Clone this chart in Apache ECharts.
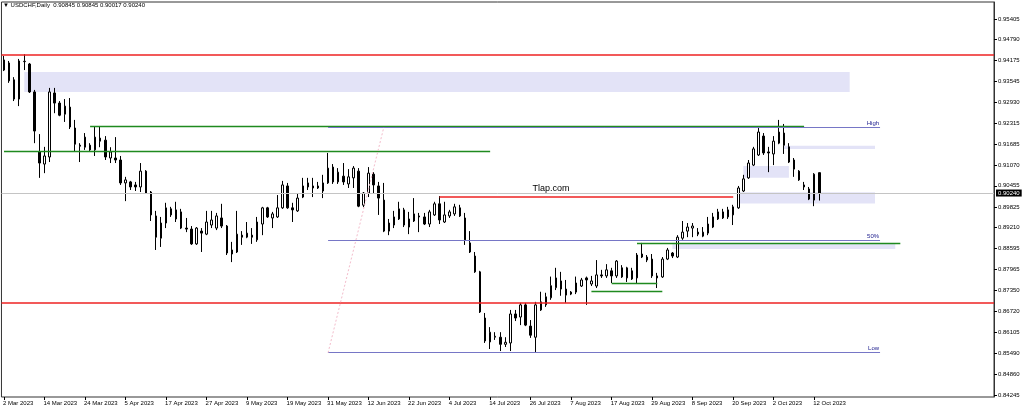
<!DOCTYPE html>
<html><head><meta charset="utf-8">
<script src="https://cdn.jsdelivr.net/npm/echarts@6.0.0/dist/echarts.min.js"></script>
<style>html,body{margin:0;padding:0;background:#fff}#c{width:1024px;height:411px}</style>
</head><body><div id="c"></div><script>
const symbolName = 'USDCHF,Daily';
const firstDate = [2023, 2, 2];
const opens = [0.9389,0.9410,0.9360,0.9303,0.9414,0.9407,0.9324,0.9146,0.9110,0.9131,0.9321,0.9291,0.9258,0.9279,0.9217,0.9166,0.9160,0.9166,0.9152,0.9187,0.9181,0.9128,0.9128,0.9122,0.9054,0.9057,0.9048,0.9042,0.9089,0.9027,0.8956,0.8890,0.8935,0.8977,0.8947,0.8968,0.8920,0.8917,0.8873,0.8911,0.8902,0.8929,0.8920,0.8950,0.8926,0.8843,0.8849,0.8899,0.8893,0.8899,0.8885,0.8932,0.8980,0.8950,0.8953,0.8980,0.9045,0.8980,0.8971,0.9012,0.9042,0.9045,0.9045,0.9030,0.9054,0.9101,0.9057,0.9074,0.9051,0.9069,0.9089,0.8988,0.9024,0.9080,0.9045,0.9003,0.8911,0.8929,0.8947,0.8974,0.8923,0.8941,0.8956,0.8953,0.8932,0.8959,0.8992,0.8938,0.8956,0.8962,0.8980,0.8950,0.8876,0.8837,0.8790,0.8653,0.8582,0.8596,0.8596,0.8575,0.8579,0.8665,0.8656,0.8692,0.8629,0.8596,0.8677,0.8692,0.8713,0.8743,0.8763,0.8739,0.8730,0.8730,0.8748,0.8772,0.8754,0.8748,0.8781,0.8778,0.8793,0.8778,0.8802,0.8772,0.8793,0.8772,0.8834,0.8825,0.8828,0.8778,0.8775,0.8828,0.8846,0.8834,0.8890,0.8911,0.8920,0.8908,0.8896,0.8905,0.8923,0.8947,0.8950,0.8953,0.8959,0.8980,0.9030,0.9069,0.9107,0.9137,0.9193,0.9146,0.9140,0.9172,0.9202,0.9161,0.9122,0.9089,0.9048,0.9036,0.9003,0.90845];
const highs = [0.9431,0.9416,0.9368,0.9422,0.9436,0.9410,0.9330,0.9199,0.9161,0.9336,0.9336,0.9297,0.9303,0.9306,0.9241,0.9172,0.9202,0.9172,0.9220,0.9220,0.9193,0.9160,0.9190,0.9134,0.9072,0.9060,0.9057,0.9113,0.9092,0.9030,0.8971,0.8953,0.8995,0.8983,0.8998,0.8977,0.8950,0.8926,0.8923,0.8920,0.8971,0.8971,0.8965,0.8992,0.8929,0.8879,0.8971,0.8911,0.8938,0.8920,0.8953,0.8983,0.8983,0.8968,0.9018,0.9060,0.9054,0.8995,0.9024,0.9069,0.9069,0.9069,0.9057,0.9078,0.9143,0.9110,0.9098,0.9113,0.9095,0.9104,0.9098,0.9027,0.9101,0.9086,0.9057,0.9054,0.8947,0.8971,0.8998,0.8980,0.8968,0.9009,0.8965,0.8965,0.8974,0.8998,0.9015,0.8998,0.8974,0.8992,0.8989,0.8965,0.8911,0.8849,0.8793,0.8668,0.8626,0.8611,0.8611,0.8596,0.8677,0.8677,0.8698,0.8698,0.8647,0.8701,0.8731,0.8728,0.8776,0.8802,0.8790,0.8766,0.8733,0.8776,0.8772,0.8776,0.8778,0.8825,0.8796,0.8813,0.8802,0.8825,0.8810,0.8805,0.8802,0.8846,0.8876,0.8840,0.8843,0.8787,0.8834,0.8861,0.8849,0.8899,0.8941,0.8935,0.8935,0.8920,0.8923,0.8953,0.8965,0.8977,0.8977,0.8983,0.8989,0.9045,0.9078,0.9122,0.9161,0.9220,0.9202,0.9161,0.9193,0.9241,0.9229,0.9172,0.9128,0.9092,0.9057,0.9042,0.9083,0.90845];
const lows = [0.9386,0.9351,0.9297,0.9282,0.9389,0.9321,0.9172,0.9069,0.9083,0.9116,0.9261,0.9252,0.9235,0.9214,0.9146,0.9116,0.9152,0.9149,0.9134,0.9160,0.9122,0.9113,0.9113,0.9048,0.9000,0.9033,0.9030,0.9027,0.9023,0.8941,0.8855,0.8864,0.8920,0.8953,0.8938,0.8917,0.8908,0.8870,0.8870,0.8849,0.8899,0.8920,0.8914,0.8920,0.8840,0.8819,0.8846,0.8870,0.8890,0.8873,0.8879,0.8899,0.8950,0.8920,0.8950,0.8977,0.8977,0.8938,0.8968,0.9009,0.9033,0.9012,0.9036,0.9009,0.9051,0.9051,0.9051,0.9048,0.9039,0.9039,0.8982,0.8982,0.9012,0.9024,0.8959,0.8908,0.8899,0.8920,0.8944,0.8923,0.8902,0.8938,0.8908,0.8929,0.8923,0.8956,0.8932,0.8935,0.8950,0.8956,0.8953,0.8870,0.8846,0.8787,0.8668,0.8579,0.8561,0.8588,0.8555,0.8567,0.8555,0.8644,0.8632,0.8629,0.8594,0.8550,0.8674,0.8686,0.8707,0.8736,0.8719,0.8698,0.8721,0.8724,0.8745,0.8692,0.8748,0.8742,0.8772,0.8772,0.8757,0.8772,0.8772,0.8760,0.8766,0.8757,0.8831,0.8819,0.8772,0.8742,0.8772,0.8825,0.8831,0.8831,0.8885,0.8893,0.8893,0.8896,0.8893,0.8899,0.8920,0.8944,0.8947,0.8947,0.8929,0.8977,0.9027,0.9066,0.9104,0.9134,0.9137,0.9086,0.9107,0.9169,0.9140,0.9113,0.9072,0.9060,0.9033,0.9003,0.8985,0.90017];
const closes = [0.9419,0.9357,0.9303,0.9416,0.9415,0.9324,0.9208,0.9113,0.9134,0.9324,0.9291,0.9255,0.9282,0.9220,0.9169,0.9163,0.9190,0.9152,0.9190,0.9178,0.9131,0.9146,0.9122,0.9054,0.9063,0.9042,0.9042,0.9089,0.9024,0.8959,0.8893,0.8935,0.8980,0.8959,0.8974,0.8920,0.8917,0.8873,0.8920,0.8905,0.8938,0.8944,0.8956,0.8926,0.8846,0.8855,0.8902,0.8893,0.8905,0.8893,0.8938,0.8980,0.8953,0.8962,0.8980,0.9048,0.8980,0.8974,0.9009,0.9045,0.9054,0.9039,0.9039,0.9054,0.9098,0.9057,0.9086,0.9057,0.9072,0.9098,0.8985,0.9024,0.9083,0.9048,0.9009,0.8911,0.8935,0.8953,0.8977,0.8929,0.8947,0.8962,0.8953,0.8932,0.8968,0.8992,0.8944,0.8959,0.8968,0.8983,0.8956,0.8885,0.8849,0.8790,0.8671,0.8585,0.8611,0.8599,0.8575,0.8581,0.8665,0.8653,0.8692,0.8632,0.8602,0.8692,0.8701,0.8716,0.8749,0.8772,0.8739,0.8721,0.8724,0.8757,0.8766,0.8766,0.8763,0.8781,0.8778,0.8796,0.8778,0.8822,0.8775,0.8802,0.8769,0.8840,0.8843,0.8834,0.8778,0.8772,0.8828,0.8855,0.8837,0.8893,0.8908,0.8923,0.8926,0.8902,0.8908,0.8932,0.8953,0.8968,0.8968,0.8974,0.8983,0.9039,0.9066,0.9113,0.9155,0.9205,0.9143,0.9143,0.9178,0.9205,0.9166,0.9116,0.9095,0.9063,0.9042,0.9006,0.9080,0.90240];
const xTickLabels = ['2 Mar 2023','14 Mar 2023','24 Mar 2023','5 Apr 2023','17 Apr 2023','27 Apr 2023','9 May 2023','19 May 2023','31 May 2023','12 Jun 2023','22 Jun 2023','4 Jul 2023','14 Jul 2023','26 Jul 2023','7 Aug 2023','17 Aug 2023','29 Aug 2023','8 Sep 2023','20 Sep 2023','2 Oct 2023','12 Oct 2023'];
const yTickValues = [0.84245,0.84860,0.85490,0.86105,0.86720,0.87350,0.87965,0.88595,0.89210,0.89825,0.90455,0.91070,0.91685,0.92315,0.92930,0.93545,0.94175,0.94790,0.95405];
// horizontal levels (prices)
const redLevels = [0.9434, 0.8698];
const bidPrice = 0.90240;
// segments: [fromBar, toBar, price]
const greenSegments = [[17,158,0.9222],[0,96,0.9147],[125,177,0.8875],[120,129,0.8756],[116,130,0.8731]];
const redSegments = [[86,144,0.9012]];
const fibFrom = 64, fibTo = 173, fibHigh = 0.9219, fibLow = 0.8550;
const fibLevels = [['High',1],['50%',0.5],['Low',0]];
const fibDiagonal = [64, 75];
// rectangles: [fromBar, toBar, priceTop, priceBottom]
const zones = [[4,167,0.9383,0.9324],[146,155,0.9104,0.9069],[154,172,0.9164,0.9155],[145,172,0.9026,0.8993],[132,176,0.8876,0.8858]];
const watermark = ['Tlap.com', 108, 0.9037];
const TICK_STEP = 8, SLOTS = 196;

const cats = [];
let d = new Date(Date.UTC(firstDate[0], firstDate[1], firstDate[2]));
while (cats.length < opens.length) {
  const wd = d.getUTCDay();
  if (wd !== 0 && wd !== 6) cats.push(d.toISOString().slice(0,10));
  d.setUTCDate(d.getUTCDate() + 1);
}
for (let i = cats.length; i < SLOTS; i++) cats.push('pad' + i);

const candles = opens.map((o,i)=>[o, closes[i], lows[i], highs[i]]);
const last = opens.length - 1;
const FONT = 'Liberation Sans, Arial, DejaVu Sans, sans-serif';
const tickFn = (i) => i % TICK_STEP === 0 && i / TICK_STEP < xTickLabels.length;

const ml = [];
redLevels.forEach(p => ml.push({yAxis: p, lineStyle:{color:'#ee2222', width:1.5, type:'solid'}, label:{show:false}}));
ml.push({yAxis: bidPrice, lineStyle:{color:'#c4c4c4', width:1, type:'solid'},
  label:{show:true, position:'end', distance:2, formatter: bidPrice.toFixed(5), color:'#fff', backgroundColor:'#000', padding:[1,2,0,2], fontSize:6, fontFamily:FONT}});
greenSegments.forEach(s => ml.push([{coord:[s[0],s[2]], lineStyle:{color:'#1f8a1f', width:1.3, type:'solid'}, label:{show:false}},{coord:[s[1],s[2]]}]));
redSegments.forEach(s => ml.push([{coord:[s[0],s[2]], lineStyle:{color:'#ee2222', width:1.5, type:'solid'}, label:{show:false}},{coord:[s[1],s[2]]}]));
fibLevels.forEach(f => {
  const p = fibLow + (fibHigh - fibLow) * f[1];
  ml.push([{coord:[fibFrom,p], lineStyle:{color:'#7676c6', width:1, type:'solid'},
    label:{show:true, position:'insideEndTop', formatter:f[0], color:'#1a1a8c', fontSize:6, fontFamily:FONT, distance:1}},{coord:[fibTo,p]}]);
});
ml.push([{coord:[fibDiagonal[0],fibLow], lineStyle:{color:'#f3bccb', width:1, type:[2,2]}, label:{show:false}},{coord:[fibDiagonal[1],fibHigh]}]);

const ma = zones.map(z => [{coord:[z[0],z[2]], itemStyle:{color:'#e3e3f7'}},{coord:[z[1],z[3]]}]);

const chart = echarts.init(document.getElementById('c'), null, {renderer:'canvas'});
chart.setOption({
  animation: false,
  backgroundColor: '#fff',
  title: {
    text: '\u25BC ' + symbolName + '  ' + [opens[last], highs[last], lows[last], closes[last]].map(v=>v.toFixed(5)).join(' '),
    left: 3, top: 2, padding: 0,
    textStyle: {fontSize: 6, fontWeight: 'normal', color: '#000', fontFamily: FONT}
  },
  grid: {left: 1, right: 30, top: 2, bottom: 14, show: true, borderColor: '#333', borderWidth: 1, backgroundColor: '#fff'},
  xAxis: {
    type: 'category', data: cats, boundaryGap: true,
    axisLine: {show: false},
    axisTick: {show: true, alignWithLabel: true, interval: tickFn, length: 3, lineStyle: {color: '#000'}},
    axisLabel: {interval: tickFn, formatter: (v, i) => xTickLabels[i / TICK_STEP] || '', align: 'left', margin: 3,
      fontSize: 6, color: '#000', fontFamily: FONT, padding: [0,0,0,-1]},
    splitLine: {show: false}
  },
  yAxis: {
    type: 'value', position: 'right', min: 0.84186, max: 0.95910, scale: true,
    axisLine: {show: true, lineStyle: {color: '#333'}},
    axisTick: {show: true, customValues: yTickValues, length: 3, lineStyle: {color: '#000'}},
    axisLabel: {customValues: yTickValues, formatter: v => v.toFixed(5), fontSize: 6, margin: 4, color: '#000', fontFamily: FONT},
    splitLine: {show: false}
  },
  series: [{
    type: 'candlestick', data: candles, barWidth: 2, clip: true,
    itemStyle: {color: '#fff', color0: '#000', borderColor: '#000', borderColor0: '#000', borderWidth: 1},
    markArea: {silent: true, data: ma},
    markLine: {silent: true, symbol: ['none','none'], precision: 5, animation: false, data: ml},
    markPoint: {silent: true, symbol: 'circle', symbolSize: 1, itemStyle: {color: 'rgba(0,0,0,0)'},
      data: [{coord: [watermark[1], watermark[2]], label: {show: true, position: 'inside', formatter: watermark[0], color: '#000', fontSize: 9, fontFamily: FONT}}]}
  }]
});
</script></body></html>
